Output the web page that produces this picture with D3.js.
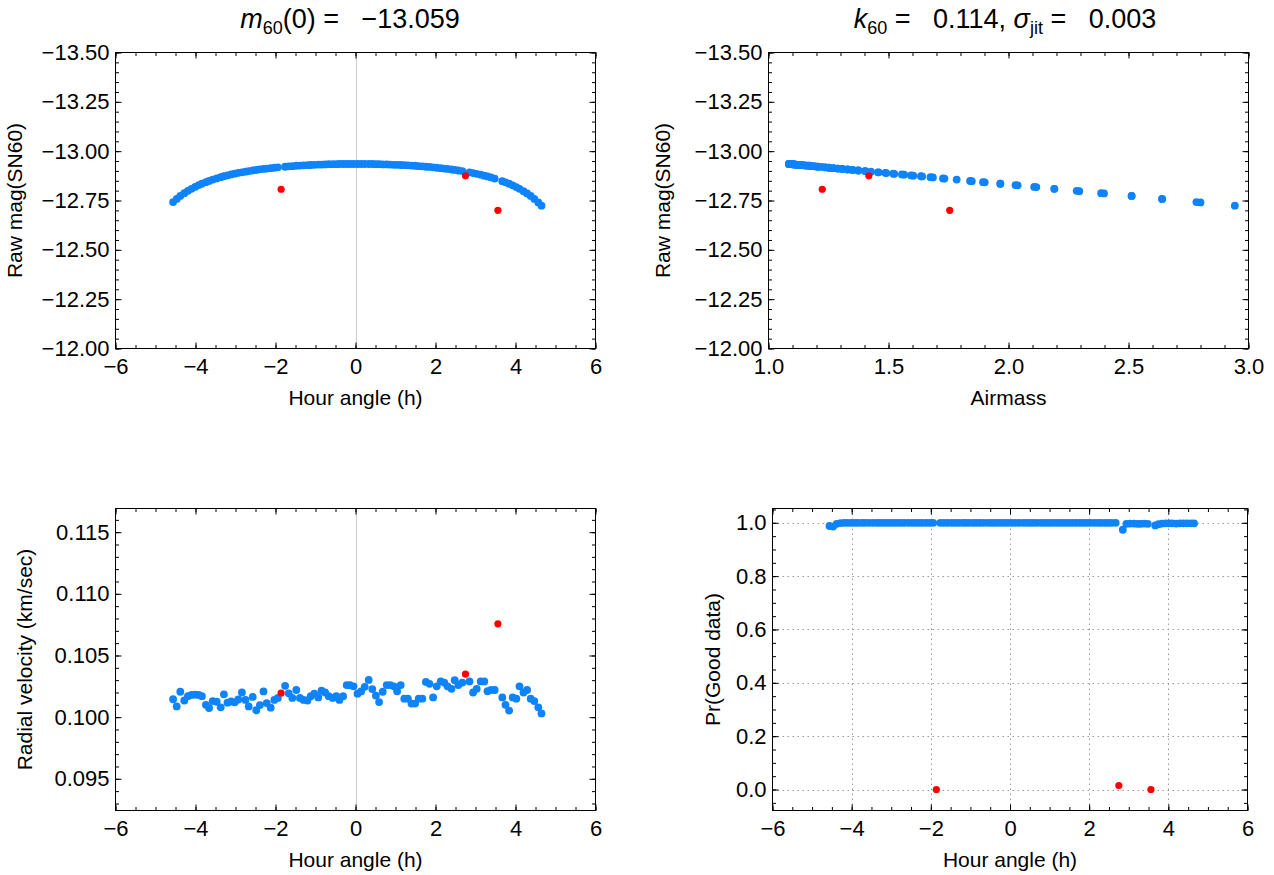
<!DOCTYPE html>
<html><head><meta charset="utf-8">
<script src="https://cdn.jsdelivr.net/npm/d3@7"></script>
<style>
body{margin:0;background:#fff}
svg text{font-family:"Liberation Sans",Arial,Helvetica,sans-serif;fill:#000}
</style>
</head><body>
<svg id="chart" width="1274" height="875" xmlns="http://www.w3.org/2000/svg"></svg>
<script>
// ---------------- data ----------------
const hourAngle = [-4.56,-4.47,-4.38,-4.28,-4.19,-4.10,-4.01,-3.92,-3.84,-3.74,-3.66,-3.57,-3.47,-3.37,-3.29,-3.20,-3.11,-3.02,-2.93,-2.84,-2.75,-2.67,-2.57,-2.48,-2.39,-2.30,-2.22,-2.12,-2.03,-1.94,-1.86,-1.76,-1.67,-1.58,-1.48,-1.39,-1.30,-1.20,-1.12,-1.03,-0.93,-0.85,-0.76,-0.67,-0.57,-0.48,-0.40,-0.31,-0.22,-0.14,-0.05,
  0.05,0.14,0.23,0.33,0.42,0.51,0.59,0.68,0.78,0.87,0.96,1.04,1.13,1.22,1.31,1.40,1.49,1.58,1.67,1.76,1.85,1.94,2.03,2.13,2.22,2.30,2.40,2.48,2.57,2.67,2.75,2.85,2.94,3.03,3.13,3.22,3.30,3.39,3.48,3.56,3.67,3.75,3.84,3.93,4.02,4.10,4.20,4.29,4.38,4.47,4.57,4.65];

const airmass = [2.783,2.640,2.513,2.386,2.284,2.191,2.107,2.029,1.966,1.894,1.840,1.784,1.727,1.675,1.635,1.594,1.556,1.520,1.487,1.456,1.427,1.403,1.374,1.350,1.328,1.307,1.289,1.269,1.252,1.236,1.224,1.206,1.193,1.181,1.169,1.158,1.149,1.139,1.132,1.124,1.117,1.111,1.106,1.101,1.097,1.093,1.091,1.088,1.087,1.086,1.085,
  1.085,1.086,1.087,1.089,1.091,1.094,1.098,1.102,1.107,1.113,1.119,1.125,1.132,1.141,1.150,1.159,1.170,1.181,1.193,1.206,1.221,1.236,1.252,1.271,1.289,1.307,1.330,1.350,1.374,1.403,1.418,1.459,1.491,1.524,1.565,1.603,1.640,1.685,1.733,1.755,1.847,1.901,1.966,2.038,2.116,2.191,2.295,2.398,2.513,2.640,2.800,2.943];

const rawMag = [-12.742,-12.758,-12.773,-12.787,-12.799,-12.809,-12.819,-12.828,-12.835,-12.843,-12.849,-12.856,-12.862,-12.868,-12.873,-12.877,-12.882,-12.886,-12.890,-12.893,-12.896,-12.899,-12.902,-12.905,-12.908,-12.910,-12.912,-12.914,-12.916,-12.918,-12.807,-12.921,-12.923,-12.924,-12.926,-12.927,-12.928,-12.929,-12.930,-12.931,-12.932,-12.932,-12.933,-12.934,-12.934,-12.934,-12.935,-12.935,-12.935,-12.935,-12.935,
  -12.935,-12.935,-12.935,-12.935,-12.935,-12.934,-12.934,-12.933,-12.933,-12.932,-12.931,-12.931,-12.930,-12.929,-12.928,-12.927,-12.926,-12.924,-12.923,-12.921,-12.920,-12.918,-12.916,-12.914,-12.912,-12.910,-12.907,-12.905,-12.902,-12.899,-12.875,-12.893,-12.889,-12.885,-12.881,-12.876,-12.872,-12.867,-12.861,-12.700,-12.848,-12.842,-12.835,-12.827,-12.818,-12.809,-12.797,-12.786,-12.773,-12.758,-12.740,-12.724];

const radialVelocity = [0.10145,0.10087,0.10206,0.10135,0.10170,0.10180,0.10182,0.10180,0.10170,0.10100,0.10074,0.10130,0.10125,0.10080,0.10185,0.10117,0.10127,0.10120,0.10143,0.10200,0.10140,0.10087,0.10164,0.10056,0.10098,0.10209,0.10114,0.10077,0.10140,0.10156,0.10196,0.10254,0.10193,0.10156,0.10220,0.10156,0.10140,0.10135,0.10170,0.10190,0.10160,0.10215,0.10200,0.10170,0.10156,0.10170,0.10140,0.10170,0.10260,0.10260,0.10250,
  0.10190,0.10209,0.10246,0.10302,0.10228,0.10175,0.10122,0.10206,0.10260,0.10260,0.10250,0.10210,0.10260,0.10150,0.10150,0.10110,0.10110,0.10150,0.10150,0.10286,0.10270,0.10160,0.10250,0.10290,0.10280,0.10250,0.10230,0.10300,0.10260,0.10280,0.10349,0.10290,0.10200,0.10230,0.10290,0.10290,0.10210,0.10220,0.10220,0.10757,0.10160,0.10100,0.10053,0.10160,0.10150,0.10250,0.10200,0.10220,0.10150,0.10130,0.10080,0.10030];

const probGood = [0.988,0.986,0.996,0.999,1,1,1,1,1,1,1,1,1,1,1,1,1,1,1,1,1,1,1,1,1,1,1,1,1,1,0.000,1,1,1,1,1,1,1,1,1,1,1,1,1,1,1,1,1,1,1,1,
  1,1,1,1,1,1,1,1,1,1,1,1,1,1,1,1,1,1,1,1,1,1,1,1,1,1,1,1,1,1,0.015,0.974,0.996,0.997,0.997,0.996,0.996,0.997,0.996,0.000,0.990,0.995,0.997,0.998,0.998,0.998,0.997,0.998,0.998,0.998,0.998,0.998];

// indices (0-based) of rejected points, drawn red
const outlierIndex = [30, 81, 90];

// tick labels
const haTicks = [-6,-4,-2,0,2,4,6];
const magTicks = [-13.50,-13.25,-13.00,-12.75,-12.50,-12.25,-12.00];
const airmassTicks = [1.0,1.5,2.0,2.5,3.0];
const rvTicks = [0.095,0.100,0.105,0.110,0.115];
const probTicks = [0.0,0.2,0.4,0.6,0.8,1.0];

// ---------------- drawing ----------------
const BLUE = "rgb(14,131,250)";
const RED = "#ff0000";
const TICK_FS = 22, LABEL_FS = 21, TITLE_FS = 27;
const svg = d3.select("#chart");

const rows = hourAngle.map((h, i) => ({
  ha: h, am: airmass[i], mag: rawMag[i], rv: radialVelocity[i], pr: probGood[i],
  bad: outlierIndex.includes(i)
}));

function panel(o) {
  const x = d3.scaleLinear().domain(o.xDom).range([o.L, o.R]);
  const y = d3.scaleLinear().domain(o.yDom).range([o.B, o.T]);
  const g = svg.append("g");

  if (o.grid) {
    const gg = g.append("g").attr("stroke", "#9a9a9a").attr("stroke-width", 1).attr("stroke-dasharray", "1.5,3.5");
    o.grid.x.forEach(v => gg.append("line").attr("x1", Math.round(x(v)) + 0.5).attr("x2", Math.round(x(v)) + 0.5).attr("y1", o.T).attr("y2", o.B));
    o.grid.y.forEach(v => gg.append("line").attr("y1", Math.round(y(v)) + 0.5).attr("y2", Math.round(y(v)) + 0.5).attr("x1", o.L).attr("x2", o.R));
  }
  if (o.zeroLine) {
    g.append("line").attr("x1", Math.round(x(0)) + 0.5).attr("x2", Math.round(x(0)) + 0.5)
      .attr("y1", o.T).attr("y2", o.B).attr("stroke", "#cfcfcf").attr("stroke-width", 1.2);
  }

  const styleAxis = sel => {
    sel.select(".domain").remove();
    sel.selectAll("line").attr("stroke", "#000").attr("stroke-width", 1);
    sel.selectAll("text").attr("font-size", TICK_FS).attr("font-family", "Liberation Sans, Arial, sans-serif").attr("fill", "#000");
  };
  const addAxis = (gen, tx, ty) => g.append("g").attr("transform", `translate(${tx},${ty})`).call(gen).call(styleAxis);

  addAxis(d3.axisBottom(x).tickValues(o.xTicks).tickSize(-6).tickPadding(10).tickFormat(o.xFmt), 0, o.B);
  addAxis(d3.axisBottom(x).tickValues(o.xMinor).tickSize(-3.5).tickFormat(""), 0, o.B);
  addAxis(d3.axisTop(x).tickValues(o.xTicks).tickSize(-6).tickFormat(""), 0, o.T);
  addAxis(d3.axisTop(x).tickValues(o.xMinor).tickSize(-3.5).tickFormat(""), 0, o.T);
  addAxis(d3.axisLeft(y).tickValues(o.yTicks).tickSize(-6).tickPadding(6).tickFormat(o.yFmt), o.L, 0);
  addAxis(d3.axisLeft(y).tickValues(o.yMinor).tickSize(-3.5).tickFormat(""), o.L, 0);
  addAxis(d3.axisRight(y).tickValues(o.yTicks).tickSize(-6).tickFormat(""), o.R, 0);
  addAxis(d3.axisRight(y).tickValues(o.yMinor).tickSize(-3.5).tickFormat(""), o.R, 0);

  g.append("rect").attr("x", o.L).attr("y", o.T).attr("width", o.R - o.L).attr("height", o.B - o.T)
    .attr("fill", "none").attr("stroke", "#000").attr("stroke-width", 1);

  const pts = g.append("g");
  pts.selectAll("circle.good").data(rows.filter(d => !d.bad)).join("circle")
    .attr("cx", d => x(d[o.xKey])).attr("cy", d => y(d[o.yKey])).attr("r", 3.9).attr("fill", BLUE);
  pts.selectAll("circle.bad").data(rows.filter(d => d.bad)).join("circle")
    .attr("cx", d => x(d[o.xKey])).attr("cy", d => y(d[o.yKey])).attr("r", 3.6).attr("fill", RED);

  g.append("text").attr("x", (o.L + o.R) / 2).attr("y", o.B + 56).attr("text-anchor", "middle")
    .attr("font-size", LABEL_FS).text(o.xLabel);
  g.append("text").attr("transform", `translate(${o.yLabelX},${(o.T + o.B) / 2}) rotate(-90)`)
    .attr("text-anchor", "middle").attr("font-size", LABEL_FS).text(o.yLabel);
}

const minor = (a, b, s) => d3.range(Math.round((b - a) / s) + 1).map(i => +(a + i * s).toFixed(6));
const fInt = d3.format("d"), f1 = d3.format(".1f"), f2 = d3.format(".2f"), f3 = d3.format(".3f");

panel({L: 115.5, R: 595.5, T: 52.5, B: 348.5, xDom: [-6, 6], yDom: [-12.0, -13.5],
  xTicks: haTicks, xMinor: minor(-6, 6, 0.5), yTicks: magTicks, yMinor: minor(-13.5, -12.0, 0.05),
  xFmt: fInt, yFmt: f2, xKey: "ha", yKey: "mag", zeroLine: true,
  xLabel: "Hour angle (h)", yLabel: "Raw mag(SN60)", yLabelX: 22});

panel({L: 768.5, R: 1248.5, T: 52.5, B: 348.5, xDom: [1, 3], yDom: [-12.0, -13.5],
  xTicks: airmassTicks, xMinor: minor(1, 3, 0.1), yTicks: magTicks, yMinor: minor(-13.5, -12.0, 0.05),
  xFmt: f1, yFmt: f2, xKey: "am", yKey: "mag",
  xLabel: "Airmass", yLabel: "Raw mag(SN60)", yLabelX: 670});

panel({L: 115.5, R: 595.5, T: 508.5, B: 810.5, xDom: [-6, 6], yDom: [0.09243, 0.11692],
  xTicks: haTicks, xMinor: minor(-6, 6, 0.5), yTicks: rvTicks, yMinor: minor(0.093, 0.116, 0.001),
  xFmt: fInt, yFmt: f3, xKey: "ha", yKey: "rv", zeroLine: true,
  xLabel: "Hour angle (h)", yLabel: "Radial velocity (km/sec)", yLabelX: 32});

panel({L: 772.5, R: 1247.5, T: 508.5, B: 810.5, xDom: [-6, 6], yDom: [-0.0787, 1.0536],
  xTicks: haTicks, xMinor: minor(-6, 6, 0.5), yTicks: probTicks, yMinor: minor(-0.05, 1.05, 0.05),
  xFmt: fInt, yFmt: f1, xKey: "ha", yKey: "pr",
  grid: {x: [-4, -2, 0, 2, 4], y: probTicks},
  xLabel: "Hour angle (h)", yLabel: "Pr(Good data)", yLabelX: 720});

function title(cx, parts) {
  const t = svg.append("text").attr("x", cx).attr("y", 28).attr("text-anchor", "middle")
    .attr("font-size", TITLE_FS).attr("xml:space", "preserve").style("white-space", "pre");
  parts.forEach(p => {
    const s = t.append("tspan").text(p.t);
    if (p.it) s.attr("font-style", "italic");
    if (p.sub) s.attr("font-size", 18).attr("dy", 6);
    if (p.up) s.attr("dy", -6);
  });
}
title(350, [{t: "m", it: true}, {t: "60", sub: true}, {t: "(0) =   \u221213.059", up: true}]);
title(1005, [{t: "k", it: true}, {t: "60", sub: true}, {t: " =   0.114, ", up: true}, {t: "\u03c3", it: true},
  {t: "jit", sub: true}, {t: " =   0.003", up: true}]);
</script>
</body></html>
